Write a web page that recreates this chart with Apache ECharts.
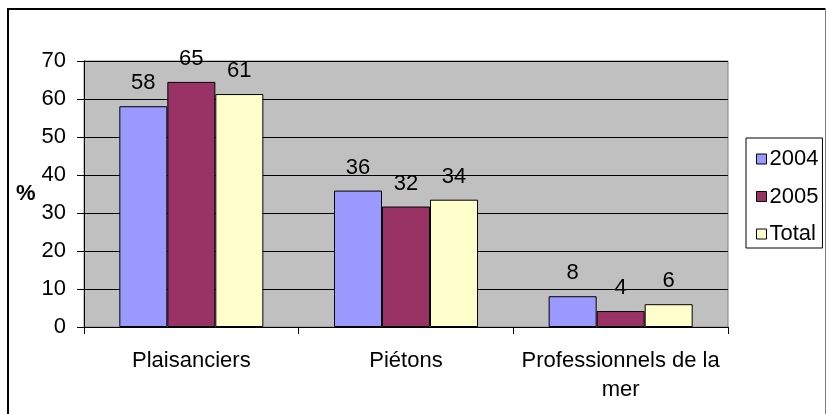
<!DOCTYPE html>
<html>
<head>
<meta charset="utf-8">
<script src="https://cdn.jsdelivr.net/npm/echarts@6/dist/echarts.min.js"></script>
<style>
  html, body { margin: 0; padding: 0; background: #fff; }
  #chart { width: 826px; height: 414px; }
</style>
</head>
<body>
<div id="chart"></div>
<script>
"use strict";
var categories = ["Plaisanciers", "Piétons", "Professionnels de la\nmer"];
var seriesNames = ["2004", "2005", "Total"];
var values2004 = [58.1, 35.9, 8.1];
var values2005 = [64.5, 31.7, 4.2];
var valuesTotal = [61.3, 33.5, 6.0];
var yTicks = { min: 0, max: 70, interval: 10 };

var colors = ["#9999FF", "#993366", "#FFFFCC"];
var font = "'Liberation Sans', Arial, sans-serif";

var chart = echarts.init(document.getElementById("chart"));

function makeSeries(name, data, color) {
    return {
        name: name,
        type: "bar",
        data: data,
        barWidth: 48,
        barGap: 0,
        itemStyle: { color: color, borderColor: "#000", borderWidth: 1 },
        label: {
            show: true,
            position: "top",
            distance: 12,
            color: "#000",
            fontSize: 22,
            fontFamily: font,
            formatter: function (p) { return Math.round(p.value); }
        }
    };
}

var options = {
    animation: false,
    textStyle: { fontFamily: font },
    grid: {
        left: 84, top: 61, right: 98, bottom: 87,
        show: true,
        backgroundColor: "#C0C0C0",
        borderColor: "#808080",
        borderWidth: 1
    },
    graphic: [
        { type: "line", shape: { x1: 8, y1: 9, x2: 826, y2: 9 }, style: { stroke: "#000", lineWidth: 2 } },
        { type: "line", shape: { x1: 8, y1: 8, x2: 8, y2: 414 }, style: { stroke: "#000", lineWidth: 2 } },
        { type: "line", shape: { x1: 825.5, y1: 8, x2: 825.5, y2: 414 }, style: { stroke: "#808080", lineWidth: 1 } }
    ],
    legend: {
        orient: "vertical",
        left: 746,
        top: 138,
        padding: [10, 4, 3, 10],
        itemGap: 15.5,
        itemWidth: 10,
        itemHeight: 10,
        borderColor: "#000",
        borderWidth: 1,
        backgroundColor: "#fff",
        icon: "rect",
        itemStyle: { borderColor: "#000", borderWidth: 1 },
        textStyle: { fontSize: 22, color: "#000", fontFamily: font, padding: [0, 0, 0, -2] },
        data: seriesNames
    },
    xAxis: {
        type: "category",
        data: categories,
        axisLine: { lineStyle: { color: "#000", width: 1 } },
        axisTick: { show: true, length: 7, lineStyle: { color: "#000" } },
        axisLabel: { color: "#000", fontSize: 22, lineHeight: 29, margin: 19, interval: 0 }
    },
    yAxis: {
        type: "value",
        min: yTicks.min,
        max: yTicks.max,
        interval: yTicks.interval,
        name: "%",
        nameLocation: "middle",
        nameRotate: 0,
        nameGap: 47,
        nameTextStyle: { color: "#000", fontSize: 22, fontWeight: "bold" },
        axisLine: { show: true, lineStyle: { color: "#000", width: 1 } },
        axisTick: { show: true, length: 7, lineStyle: { color: "#000" } },
        axisLabel: { color: "#000", fontSize: 22, margin: 18 },
        splitLine: { show: true, lineStyle: { color: "#000", width: 1 } }
    },
    series: [
        makeSeries(seriesNames[0], values2004, colors[0]),
        makeSeries(seriesNames[1], values2005, colors[1]),
        makeSeries(seriesNames[2], valuesTotal, colors[2])
    ]
};

chart.setOption(options);
</script>
</body>
</html>
